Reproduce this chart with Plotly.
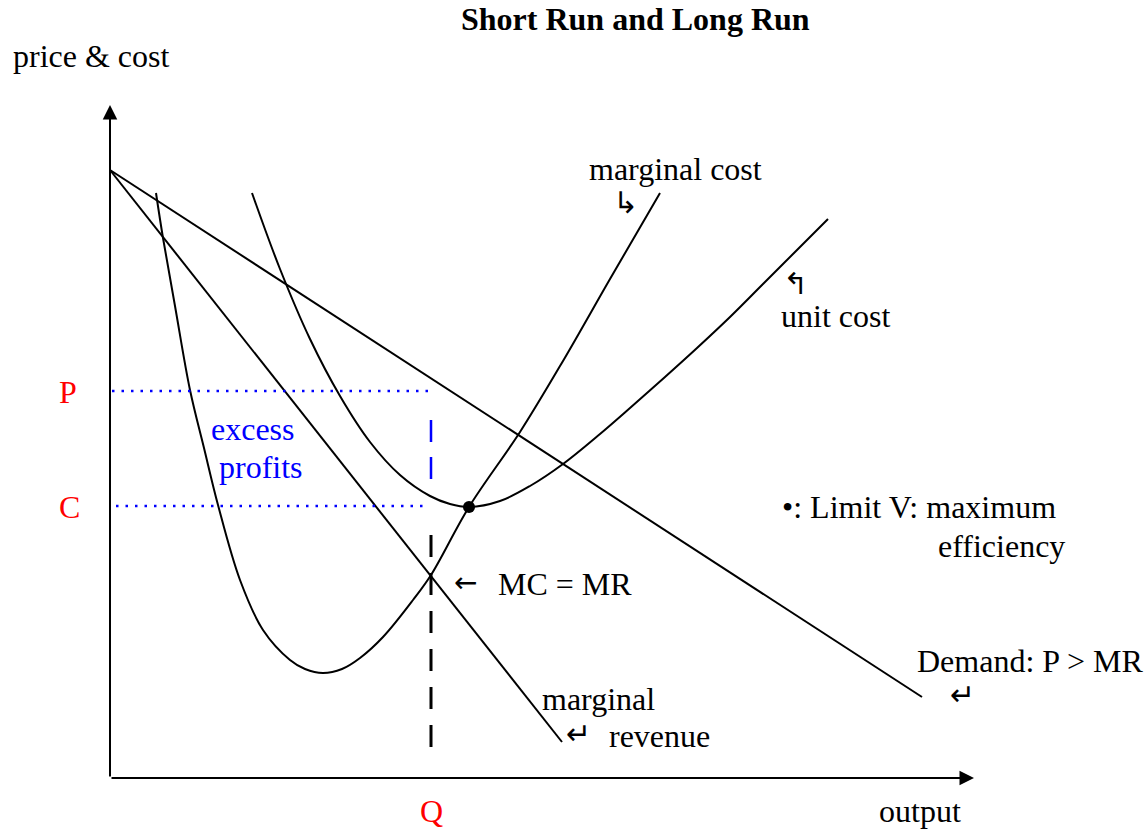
import plotly.graph_objects as go

# ---- data (output on x, price & cost on y; origin at the axes corner) ----
demand_q = [0, 812]
demand_p = [608, 81]

mr_q = [0, 452]
mr_p = [608, 36]

mc_q = [46, 53, 65, 80, 94, 108, 130, 153, 180, 195, 213, 232, 250, 273, 303, 321, 359, 410, 453, 500, 550]
mc_p = [585, 540, 472, 388, 330, 273, 198, 148, 118, 109, 105, 109, 120, 141, 178, 203, 271, 346, 417, 499, 585]

ac_q = [142, 170, 200, 230, 260, 290, 320, 340, 359, 390, 420, 453, 490, 520, 555, 587, 620, 653, 685, 718]
ac_p = [585, 509, 439, 382, 336, 303, 282, 274, 271, 277, 292, 314, 344, 370, 401, 430, 461, 494, 526, 559]

limit_q = [359]
limit_p = [271]

P_level = 387
C_level = 272
Q_level = 321

p_line_q = [2, 322]
c_line_q = [6, 317]
profit_gap_p = [358, 298]     # blue dashes between P and C at Q
q_drop_p = [243, 31]          # black dashes below MC = MR

x_axis_end = 864
y_axis_end = 673

SERIF = "Liberation Serif, Times New Roman, DejaVu Serif, serif"
ARROWS = "DejaVu Sans, Liberation Serif, sans-serif"

fig = go.Figure()

line_style = dict(color="black", width=2)
fig.add_trace(go.Scatter(x=demand_q, y=demand_p, mode="lines", line=line_style))
fig.add_trace(go.Scatter(x=mr_q, y=mr_p, mode="lines", line=line_style))
fig.add_trace(go.Scatter(x=mc_q, y=mc_p, mode="lines",
                         line=dict(color="black", width=2, shape="spline", smoothing=1)))
fig.add_trace(go.Scatter(x=ac_q, y=ac_p, mode="lines",
                         line=dict(color="black", width=2, shape="spline", smoothing=1)))

# dotted P and C levels
fig.add_trace(go.Scatter(x=p_line_q, y=[P_level, P_level], mode="lines",
                         line=dict(color="blue", width=2.5, dash="2.5px,7px")))
fig.add_trace(go.Scatter(x=c_line_q, y=[C_level, C_level], mode="lines",
                         line=dict(color="blue", width=2.5, dash="2.5px,7px")))
# dashed verticals at Q
fig.add_trace(go.Scatter(x=[Q_level, Q_level], y=profit_gap_p, mode="lines",
                         line=dict(color="blue", width=2.5, dash="22px,15px")))
fig.add_trace(go.Scatter(x=[Q_level, Q_level], y=q_drop_p, mode="lines",
                         line=dict(color="black", width=3, dash="22px,16px")))

# limit point
fig.add_trace(go.Scatter(x=limit_q, y=limit_p, mode="markers",
                         marker=dict(color="black", size=12)))

annotations = []
# axes with arrowheads
annotations.append(dict(x=x_axis_end, y=0, ax=0, ay=0, xref="x", yref="y", axref="x", ayref="y",
                        text="", showarrow=True, arrowhead=2, arrowsize=1.45, arrowwidth=2,
                        arrowcolor="black"))
annotations.append(dict(x=0, y=y_axis_end, ax=0, ay=0, xref="x", yref="y", axref="x", ayref="y",
                        text="", showarrow=True, arrowhead=2, arrowsize=1.45, arrowwidth=2,
                        arrowcolor="black"))


def label(text, x, y, anchor="left", color="black", size=32, bold=False, family=SERIF):
    t = f"<b>{text}</b>" if bold else text
    annotations.append(dict(x=x, y=y, xref="x", yref="y", text=t, showarrow=False,
                            xanchor=anchor, yanchor="middle",
                            font=dict(family=family, size=size, color=color)))


label("Short Run and Long Run", 525, 759, anchor="center", bold=True)
label("price &amp; cost", -99, 722)
label("marginal cost", 477, 609)
label("↳", 515, 576, anchor="center", size=30, family=ARROWS)
label("↰", 685, 495, anchor="center", size=30, family=ARROWS)
label("unit cost", 669, 462)
label("P", -42, 386, anchor="center", color="red")
label("C", -41, 271, anchor="center", color="red")
label("excess", 99, 349, color="blue")
label("profits", 107, 311, color="blue")
label("•: Limit V: maximum", 670, 271)
label("efficiency", 826, 232)
label("←", 355, 196, anchor="center", size=28, family=ARROWS)
label("MC = MR", 386, 194)
label("marginal", 430, 79)
label("↵", 468, 45, anchor="center", size=30, family=ARROWS)
label("revenue", 497, 42)
label("Demand: P &gt; MR", 805, 117)
label("↵", 852, 84, anchor="center", size=30, family=ARROWS)
label("Q", Q_level, -33, anchor="center", color="red")
label("output", 767, -33)

fig.update_layout(
    width=1145, height=832,
    margin=dict(l=0, r=0, t=0, b=0, pad=0),
    paper_bgcolor="white", plot_bgcolor="white",
    showlegend=False,
    xaxis=dict(range=[-110, 1035], visible=False, fixedrange=True),
    yaxis=dict(range=[-54, 778], visible=False, fixedrange=True),
    annotations=annotations,
)

fig.write_html("out.html", config={"displayModeBar": False},
               post_script="document.body.style.margin='0';document.body.style.overflow='hidden';")
